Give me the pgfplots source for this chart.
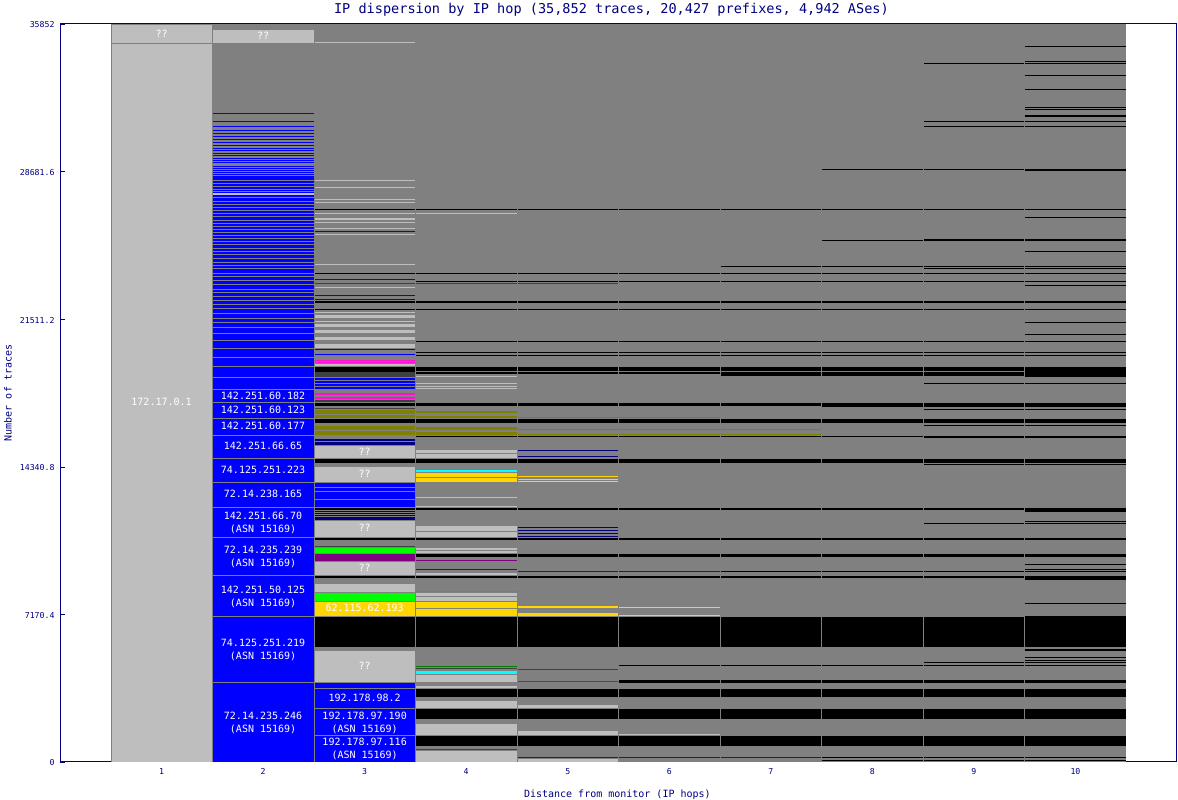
\documentclass[border=0pt]{standalone}
\usepackage{fontspec}
\setmonofont{DejaVu Sans Mono}
\usepackage{pgfplots}
\pgfplotsset{compat=1.18}

\definecolor{cnavy}{HTML}{000080}
\definecolor{cgray}{HTML}{808080}
\definecolor{clight}{HTML}{BEBEBE}
\definecolor{cblue}{HTML}{0000FF}
\definecolor{colive}{HTML}{808000}
\definecolor{cmagenta}{HTML}{FF10D0}
\definecolor{cgold}{HTML}{FFD700}
\definecolor{ccyan}{HTML}{00FFFF}
\definecolor{cgreen}{HTML}{00FF00}
\definecolor{cpurple}{HTML}{800080}
\definecolor{cdarkred}{HTML}{800000}
\definecolor{cdark}{HTML}{404040}
\definecolor{cdgreen}{HTML}{008000}
\definecolor{cmid}{HTML}{7070D0}

% values are in rows of the plot above the baseline, one row = 35852/738 traces
% cell edges are snapped to whole pixels, hop width 1117/11
\newcommand{\band}[4]{%
  \pgfplotsforeachungrouped \hh in {#2}{%
    \pgfmathsetmacro\xa{(floor(60+(\hh-0.5)*101.5455+0.3)+1-60)/101.5455}%
    \pgfmathsetmacro\xb{(floor(60+(\hh+0.5)*101.5455+0.3)-60)/101.5455}%
    \addplot[forget plot,mark=none,draw=none,fill=#1] coordinates {(\xa,#3)(\xb,#3)(\xb,#4)(\xa,#4)} --cycle;%
  }}
\newcommand{\rows}[3]{%
  \pgfplotsforeachungrouped \rr in {#3}{%
    \pgfmathsetmacro\rlo{\rr-1}%
    \band{#1}{#2}{\rr}{\rlo}%
  }}
\newcommand{\lab}[3]{\node[text=white,font=\ttfamily\fontsize{10}{12}\selectfont,inner sep=0pt] at (axis cs:#1,{#2*48.5799}) {#3};}

\begin{document}
\begin{tikzpicture}[x=1pt,y=1pt]
\path[use as bounding box] (0,0) rectangle (1178,800);
\begin{axis}[
  at={(60pt,38pt)}, anchor=south west,
  scale only axis, width=1117pt, height=738pt,
  xmin=0, xmax=11, ymin=0, ymax=35852,
  y filter/.expression={y*48.5799},
  scaled y ticks=false,
  xtick={1,2,3,4,5,6,7,8,9,10},
  ytick={0,7170.4,14340.8,21511.2,28681.6,35852},
  yticklabels={0,7170.4,14340.8,21511.2,28681.6,35852},
  xtick style={draw=none},
  ytick pos=left, ytick align=inside,
  major tick length=5pt,
  tick style={cnavy},
  axis line style={cnavy,line width=1pt},
  /pgf/number format/assume math mode=true,
  ticklabel style={text=cnavy,font=\ttfamily\fontsize{8.2}{10}\selectfont},
  xticklabel style={yshift=-3pt},
  yticklabel style={xshift=-2pt,yshift=-1pt},
  title={IP dispersion by IP hop (35,852 traces, 20,427 prefixes, 4,942 ASes)},
  title style={text=cnavy,font=\ttfamily\fontsize{13.55}{15}\selectfont,at={(axis description cs:0.4937,1.0217)},anchor=center,inner sep=0pt,yshift=-8pt},
  xlabel={Distance from monitor (IP hops)},
  xlabel style={text=cnavy,font=\ttfamily\fontsize{10}{12}\selectfont,at={(axis description cs:0.499,-0.0434)},anchor=center,inner sep=0pt,yshift=-1pt},
  ylabel={Number of traces},
  ylabel style={text=cnavy,font=\ttfamily\fontsize{10}{12}\selectfont,at={(axis description cs:-0.0466,0.5)},anchor=center,rotate=0,inner sep=0pt},
]
% background
\addplot[forget plot,mark=none,draw=none,fill=cgray] coordinates {(0.5,0)(10.5,0)(10.5,738)(0.5,738)} --cycle;

% hop 1
\band{clight}{1}{737}{719}
\band{clight}{1}{718}{0}

% hop 2
\band{clight}{2}{732}{719}
\rows{cblue}{2}{649,641,636,632,629,626,623,620,617,614,612,609,607,604,602,600,596,594,592,590,588,586}
\band{cblue}{2}{585}{0}
\rows{cgray}{2}{582,579,576,573,571,565,561,558,555,552,549,546,542,539,536,533,530,527,524,521,518,514,511,508,504,500,497,494,489,486,482,478,473,470,466,462,458,454,449,444,440,435,429,422,414,405,396}
\band{clight}{2}{569}{567}
\rows{cgray}{2}{385,373,360,344,327,304,280,255,225,187,146,80}

% hop 3
\rows{clight}{3}{720,582,575,563,560,549,540,534,528,498,475,450,441}
\band{clight}{3}{544}{542}
\band{clight}{3}{447}{444}
\band{clight}{3}{438}{435}
\band{clight}{3}{432}{429}
\band{clight}{3}{425}{422}
\band{clight}{3}{418}{414}
\band{clight}{3}{398}{396}
\rows{cblue}{3}{531,483,467,463,413,408}
\rows{black}{3}{553,489,453}
\band{black}{3}{461}{459}
\band{black}{3}{395}{390}
\rows{cdark}{3}{479}
\band{cdark}{3}{390}{385}
\rows{cmagenta}{3}{402,400}
\band{cblue}{3}{384}{373}
\rows{cgray}{3}{382,379,376}
\band{cmagenta}{3}{369}{367}
\band{cmagenta}{3}{365}{363}
\band{cdark}{3}{362}{360}
\band{black}{3}{359}{356}
\band{cdark}{3}{354}{353}
\band{colive}{3}{352}{348}
\band{colive}{3}{347}{344}
\band{black}{3}{343}{339}
\band{colive}{3}{336}{332}
\band{colive}{3}{331}{327}
\band{cnavy}{3}{323}{321}
\band{cnavy}{3}{320}{317}
\band{clight}{3}{316}{304}
\band{black}{3}{303}{299}
\band{clight}{3}{295}{280}
\band{cblue}{3}{279}{255}
\rows{cgray}{3}{275,271,263}
\band{black}{3}{254}{252}
\rows{cnavy}{3}{251,249,247}
\band{cnavy}{3}{245}{242}
\band{clight}{3}{241}{225}
\band{black}{3}{224}{222}
\band{cdark}{3}{216}{215}
\band{cgreen}{3}{214}{209}
\band{cpurple}{3}{208}{201}
\band{clight}{3}{200}{187}
\band{black}{3}{186}{184}
\band{clight}{3}{178}{170}
\band{cgreen}{3}{169}{161}
\band{cgold}{3}{160}{146}
\band{black}{3}{145}{115}
\band{clight}{3}{111}{80}
\band{cblue}{3}{79}{74}
\band{cblue}{3}{73}{54}
\band{cblue}{3}{53}{27}
\band{cblue}{3}{26}{0}

% lines shared by hops 4 to 10
\rows{black}{4,...,10}{553,489,481,453,421,410,407,326}
\band{black}{4,...,10}{461}{459}
\band{black}{4,...,10}{395}{391}
\band{black}{4,...,10}{359}{356}
\band{black}{4,...,10}{343}{339}
\band{black}{4,...,10}{303}{299}
\band{black}{4,...,10}{254}{252}
\band{black}{4,...,10}{224}{222}
\band{black}{4,...,10}{208}{205}
\band{black}{4,...,10}{186}{184}
\band{black}{4,...,10}{145}{115}
\band{black}{4,...,10}{73}{65}
\band{black}{4,...,10}{53}{43}
\band{black}{4,...,10}{26}{16}
\band{black}{4,5,6}{390}{388}
\band{black}{7,8,9}{390}{386}
\rows{cdark}{4,5}{479}

% hop 4
\rows{clight}{4}{549,386,379,376,374,265,256}
\band{colive}{4}{351}{349}
\band{colive}{4}{346}{344}
\band{colive}{4}{335}{332}
\band{colive}{4}{330}{327}
\band{clight}{4}{312}{309}
\band{clight}{4}{308}{304}
\band{ccyan}{4}{292}{290}
\band{cgold}{4}{289}{285}
\band{cgold}{4}{284}{280}
\band{clight}{4}{236}{231}
\band{clight}{4}{230}{225}
\band{clight}{4}{214}{212}
\band{clight}{4}{211}{209}
\rows{cpurple}{4}{202}
\rows{cdarkred}{4}{193}
\band{clight}{4}{189}{187}
\rows{cmid}{4}{171}
\band{clight}{4}{169}{166}
\band{clight}{4}{165}{161}
\band{cgold}{4}{160}{154}
\band{cgold}{4}{153}{146}
\rows{cdgreen}{4}{96}
\rows{cdark}{4}{94,13}
\band{ccyan}{4}{91}{88}
\band{clight}{4}{87}{80}
\band{clight}{4}{76}{74}
\band{clight}{4}{61}{54}
\band{clight}{4}{38}{27}
\band{clight}{4}{11}{0}

% hop 5
\rows{colive}{5}{345,333,328}
\rows{cnavy}{5}{312,306,235,232,229,226}
\rows{cgold}{5}{286,283,281}
\rows{cdarkred}{5}{191}
\band{cgold}{5}{156}{154}
\band{cgold}{5}{149}{146}
\rows{cdark}{5}{93}
\rows{cdgreen}{5}{81}
\band{clight}{5}{57}{54}
\band{clight}{5}{31}{27}
\rows{cdarkred}{5}{5}
\band{clight}{5}{3}{0}

% hops 6 to 10
\rows{colive}{6}{345}
\rows{colive}{6,7}{333,328}
\rows{cdarkred}{6}{191}
\rows{black}{7,8,9,10}{191}
\rows{cgold}{6}{155,147}
\rows{black}{6,...,10}{97}
\band{black}{6,...,10}{82}{79}
\rows{clight}{6}{28}
\rows{cdarkred}{6,7}{5}
\rows{black}{8,9,10}{5,2}
\rows{black}{7,8}{496}
\rows{black}{8}{593,522}
\band{black}{8,9,10}{359}{355}
\rows{black}{9,10}{699,641,636,593,496,494,379,353,337,298,239}
\band{black}{9,10}{523}{521}
\band{black}{9,10}{326}{324}
\rows{black}{9}{100}
\rows{black}{10}{716,701,687,673,655,653,545,511,477,440,428,241,198,193,159,105,102,100}
\band{black}{10}{647}{645}
\band{black}{10}{593}{591}
\band{black}{10}{395}{385}
\band{black}{10}{254}{250}
\band{black}{10}{186}{182}
\band{black}{10}{146}{115}
\band{black}{10}{113}{111}

% cell labels
\lab{1}{728}{??}
\lab{1}{360}{172.17.0.1}
\lab{2}{726}{??}
\lab{2}{366}{142.251.60.182}
\lab{2}{352}{142.251.60.123}
\lab{2}{336}{142.251.60.177}
\lab{2}{316}{142.251.66.65}
\lab{2}{292}{74.125.251.223}
\lab{2}{268}{72.14.238.165}
\lab{2}{246}{142.251.66.70}
\lab{2}{233}{(ASN 15169)}
\lab{2}{212}{72.14.235.239}
\lab{2}{199}{(ASN 15169)}
\lab{2}{172}{142.251.50.125}
\lab{2}{159}{(ASN 15169)}
\lab{2}{119}{74.125.251.219}
\lab{2}{106}{(ASN 15169)}
\lab{2}{46}{72.14.235.246}
\lab{2}{33}{(ASN 15169)}
\lab{3}{310}{??}
\lab{3}{288}{??}
\lab{3}{234}{??}
\lab{3}{194}{??}
\lab{3}{154}{62.115.62.193}
\lab{3}{96}{??}
\lab{3}{64}{192.178.98.2}
\lab{3}{46}{192.178.97.190}
\lab{3}{33}{(ASN 15169)}
\lab{3}{20}{192.178.97.116}
\lab{3}{7}{(ASN 15169)}
\end{axis}
\end{tikzpicture}
\end{document}
